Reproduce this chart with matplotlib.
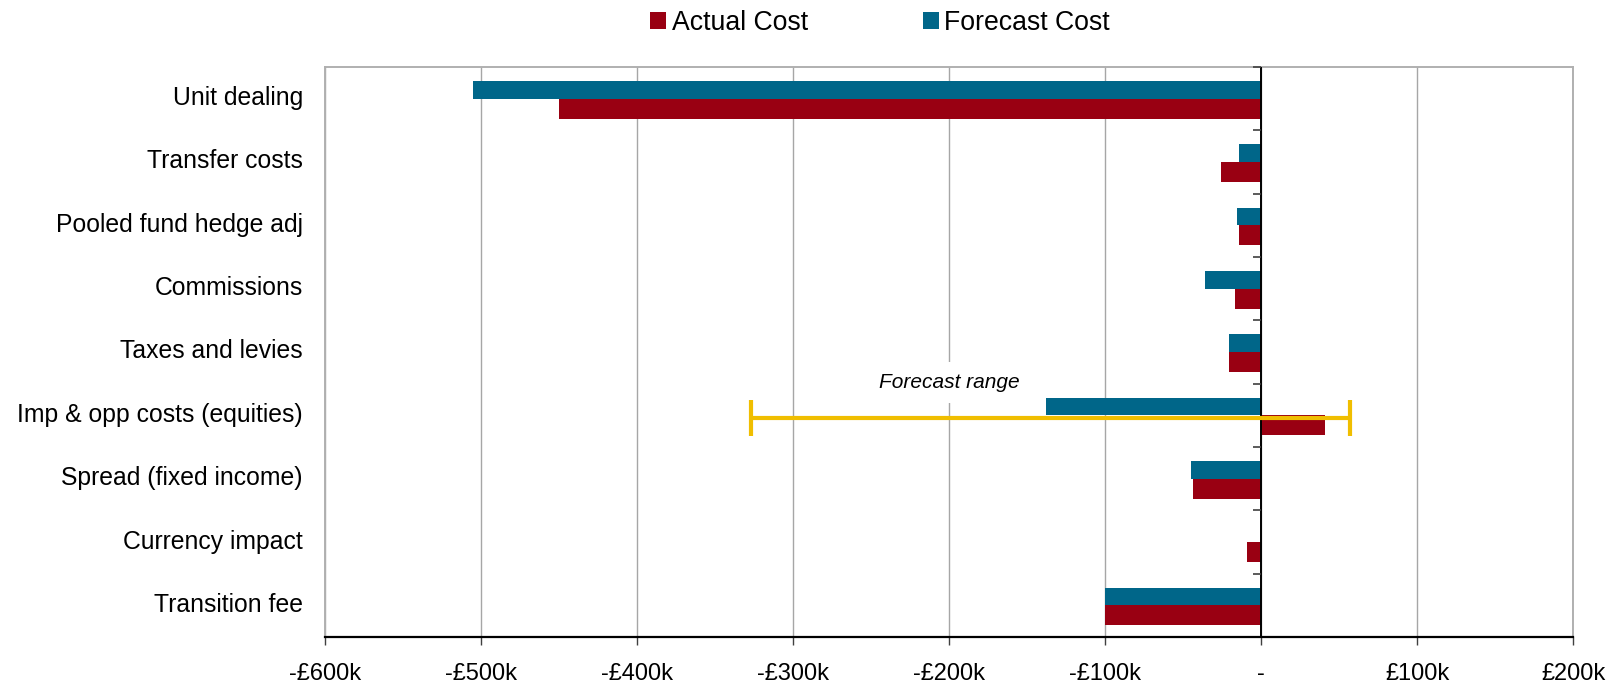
import matplotlib
matplotlib.use("Agg")
import matplotlib.pyplot as plt
from matplotlib.patches import Patch
from matplotlib.lines import TICKLEFT
from matplotlib.transforms import ScaledTranslation

plt.rcParams['font.family'] = ['Liberation Sans', 'DejaVu Sans']

# Cost components (values in £k), top to bottom
categories = ["Unit dealing", "Transfer costs", "Pooled fund hedge adj", "Commissions",
              "Taxes and levies", "Imp & opp costs (equities)", "Spread (fixed income)",
              "Currency impact", "Transition fee"]
actual_cost = [-450, -25.6, -14, -16.7, -20.5, 41, -43.6, -9, -100]
forecast_cost = [-505, -14, -15.4, -35.9, -20.5, -138, -44.9, 0, -100]

# Forecast range for implementation & opportunity costs (£k)
range_category = "Imp & opp costs (equities)"
forecast_range = (-327, 57)

x_ticks = [-600, -500, -400, -300, -200, -100, 0, 100, 200]
x_tick_labels = ["-£600k", "-£500k", "-£400k", "-£300k", "-£200k", "-£100k", "-", "£100k", "£200k"]

RED = "#990012"
BLUE = "#006689"
YELLOW = "#F0BE00"

fig = plt.figure(figsize=(16.13, 6.87), dpi=100)
ax = fig.add_axes([325 / 1613, 50 / 687, 1248 / 1613, 570 / 687])

pos = list(range(len(categories)))
h_blue, h_red = 0.28, 0.315
ax.barh([p - h_blue / 2 for p in pos], forecast_cost, height=h_blue, color=BLUE, zorder=2)
ax.barh([p + h_red / 2 for p in pos], actual_cost, height=h_red, color=RED, zorder=2)

ax.set_xlim(x_ticks[0], x_ticks[-1])
ax.set_ylim(len(categories) - 0.5, -0.5)

# Axes styling
ax.set_xticks(x_ticks)
ax.set_xticklabels(x_tick_labels, fontsize=17)
ax.tick_params(axis='x', direction='out', length=5.5, width=1, color='#404040', pad=13)
ax.set_yticks(pos)
ax.set_yticklabels(categories, fontsize=17.8)
ax.tick_params(axis='y', length=0, pad=16)
lift = ScaledTranslation(0, 3 / 100, fig.dpi_scale_trans)
for lab in ax.get_yticklabels():
    lab.set_transform(lab.get_transform() + lift)

ax.grid(axis='x', color='#a6a6a6', linewidth=1, zorder=0)
ax.set_axisbelow(True)
for side in ('left', 'top', 'right'):
    ax.spines[side].set_color('#b0b0b0')
    ax.spines[side].set_linewidth(1.4)
ax.spines['bottom'].set_color('black')
ax.spines['bottom'].set_linewidth(1.6)

# Zero line with category boundary ticks
ax.axvline(0, color='black', linewidth=1.4, zorder=3)
boundaries = [p - 0.5 for p in pos]
ax.plot([0] * len(boundaries), boundaries, linestyle='none', marker=TICKLEFT,
        markersize=5.5, markeredgewidth=1.2, color='#404040', zorder=3, clip_on=False)

# Forecast range error bar
yi = categories.index(range_category) + 0.04
lo, hi = forecast_range
ax.errorbar([0], [yi], xerr=[[-lo], [hi]], fmt='none', ecolor=YELLOW,
            elinewidth=3, capsize=13, capthick=3, zorder=4)
ax.text((lo + hi) / 2 - 65, categories.index(range_category) - 0.52, "Forecast range",
        fontsize=15, style='italic', ha='center', va='center', zorder=1.5,
        bbox=dict(facecolor='white', edgecolor='none', pad=8))

# Legend
handles = [Patch(facecolor=RED, edgecolor='none'), Patch(facecolor=BLUE, edgecolor='none')]
fig.legend(handles, ["Actual Cost", "Forecast Cost"], loc='center',
           bbox_to_anchor=(880 / 1613, 1 - 23 / 687), ncol=2, frameon=False,
           fontsize=19.2, handlelength=0.62, handleheight=0.62, handletextpad=0.2,
           columnspacing=4.3)

fig.savefig("out.png", dpi=100, facecolor='white')
